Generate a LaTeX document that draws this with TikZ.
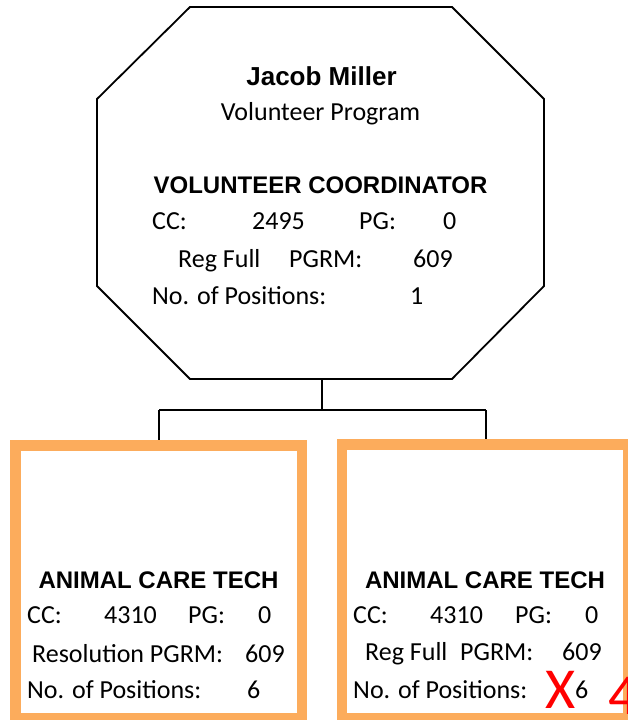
\documentclass[tikz,border=0pt]{standalone}
\usepackage{fontspec}
\setmainfont{Carlito}
\newfontfamily\arialfont{Liberation Sans}
\definecolor{boxorange}{RGB}{252,172,92}
\definecolor{markred}{RGB}{255,0,0}
\begin{document}
\begin{tikzpicture}[x=1pt,y=-1pt,
  lab/.style={anchor=base west, inner sep=0pt, font=\fontsize{26}{30}\selectfont},
  ttl/.style={anchor=base, inner sep=0pt, font=\arialfont\bfseries\fontsize{24}{28}\selectfont},
  conn/.style={draw=black, line width=1.8pt},
  obox/.style={draw=boxorange, line width=10.5pt, fill=white},
  redmark/.style={anchor=base west, inner sep=0pt, text=markred, font=\fontsize{58}{60}\selectfont}]
\fill[white] (0,0) rectangle (628,720);
\useasboundingbox (0,0) rectangle (628,720);
\clip (0,0) rectangle (628,720);
% octagon
\draw[line width=1.8pt, fill=white] (190,7) -- (452,7) -- (544,99) -- (544,286) -- (452,379) -- (190,379) -- (97,286) -- (97,99) -- cycle;
\coordinate (octb) at (322,379);
\coordinate (junc) at (322,410);
\coordinate (jl) at (159,410);
\coordinate (jr) at (486,410);
% boxes
\draw[obox] (15.5,445.5) rectangle (302,718);
\draw[obox] (342,444.5) rectangle (628,718);
\coordinate (lt) at (159,440);
\coordinate (rt) at (486,439);
% connectors
\draw[conn] (octb) -- (junc);
\draw[conn] (jl) -- (jr);
\draw[conn] (jl) -- (lt);
\draw[conn] (jr) -- (rt);
% top text
\node[ttl, font=\arialfont\bfseries\fontsize{26}{30}\selectfont] (name) at (321.5,85) {Jacob Miller};
\node[lab, anchor=base] (prog) at (320.5,120) {Volunteer Program};
\node[ttl] (vc) at (320.5,193) {VOLUNTEER COORDINATOR};
\node[lab] (tcc) at (152,229) {CC:};
\node[lab] (tccv) at (252,229) {2495};
\node[lab] (tpg) at (359,229) {PG:};
\node[lab] (tpgv) at (443,229) {0};
\node[lab] (treg) at (178,267) {Reg Full};
\node[lab] (tpgrm) at (289,267) {PGRM:};
\node[lab] (tpgrmv) at (413,267) {609};
\node[lab] (tno) at (152,304) {No. of Positions:};
\node[lab] (tnov) at (410,304) {1};
% left box text
\node[ttl] (lt1) at (158.5,588) {ANIMAL CARE TECH};
\node[lab] (lcc) at (27,623) {CC:};
\node[lab] (lccv) at (104,623) {4310};
\node[lab] (lpg) at (188,623) {PG:};
\node[lab] (lpgv) at (258,623) {0};
\node[lab] (lres) at (32,662) {Resolution PGRM:};
\node[lab] (lresv) at (245,662) {609};
\node[lab] (lno) at (27,698) {No. of Positions:};
\node[lab] (lnov) at (247,698) {6};
% right box text
\node[ttl] (rt1) at (485,588) {ANIMAL CARE TECH};
\node[lab] (rcc) at (353,623) {CC:};
\node[lab] (rccv) at (430,623) {4310};
\node[lab] (rpg) at (515,623) {PG:};
\node[lab] (rpgv) at (585,623) {0};
\node[lab] (rreg) at (365,660) {Reg Full};
\node[lab] (rpgrm) at (460,660) {PGRM:};
\node[lab] (rpgrmv) at (562,660) {609};
\node[lab] (rno) at (353,698) {No. of Positions:};
\node[lab] (rnov) at (575,698) {6};
% red marks
\node[redmark] (xmark) at (545,708) {X};
\node[redmark] (fmark) at (608,714) {4};
\end{tikzpicture}
\end{document}
